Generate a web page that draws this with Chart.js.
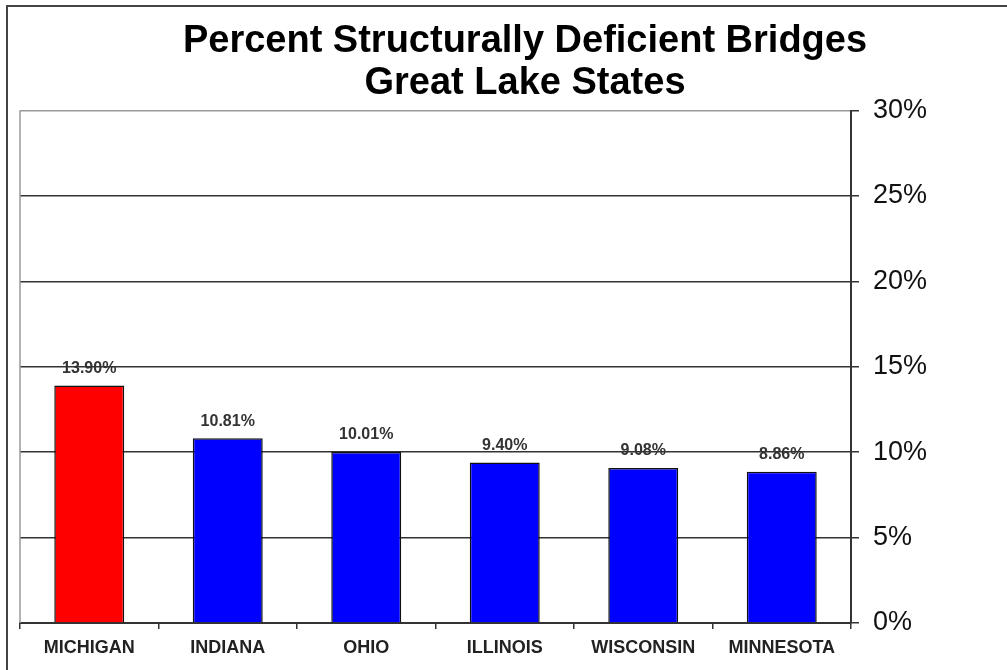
<!DOCTYPE html>
<html>
<head>
<meta charset="utf-8">
<script src="https://cdn.jsdelivr.net/npm/chart.js@4"></script>
<style>
    body { margin: 0; overflow: hidden; background: #fff; width: 1007px; height: 670px; position: relative; }
    #frame { position: absolute; left: 6px; top: 5px; width: 1100px; height: 800px; border-left: 2px solid #444; border-top: 2px solid #444; }
    #chart { position: absolute; left: 0; top: 0; }
</style>
</head>
<body>
<div id="frame"></div>
<canvas id="chart" width="1030" height="670"></canvas>
<script>
const states = ['MICHIGAN', 'INDIANA', 'OHIO', 'ILLINOIS', 'WISCONSIN', 'MINNESOTA'];
const deficientPct = [13.90, 10.81, 10.01, 9.40, 9.08, 8.86];
const barColors = ['#ff0000', '#0000ff', '#0000ff', '#0000ff', '#0000ff', '#0000ff'];
const yTicks = [0, 5, 10, 15, 20, 25, 30];

Chart.defaults.font.family = '"Liberation Sans", Arial, sans-serif';
Chart.defaults.color = '#111';

// gray left edge of the plot area
const plotEdge = {
    id: 'plotEdge',
    beforeDatasetsDraw(chart) {
        const { ctx, chartArea } = chart;
        ctx.save();
        ctx.strokeStyle = '#999';
        ctx.lineWidth = 1.5;
        ctx.beginPath();
        ctx.moveTo(chartArea.left, chartArea.top);
        ctx.lineTo(chartArea.left, chartArea.bottom);
        ctx.stroke();
        ctx.restore();
    }
};

// value labels above the bars
const valueLabels = {
    id: 'valueLabels',
    afterDatasetsDraw(chart) {
        const { ctx } = chart;
        const meta = chart.getDatasetMeta(0);
        ctx.save();
        ctx.font = 'bold 16px "Liberation Sans", Arial, sans-serif';
        ctx.fillStyle = '#333';
        ctx.textAlign = 'center';
        ctx.textBaseline = 'bottom';
        meta.data.forEach((bar, i) => {
            ctx.fillText(deficientPct[i].toFixed(2) + '%', bar.x, bar.y - 9);
        });
        ctx.restore();
    }
};

new Chart(document.getElementById('chart'), {
    type: 'bar',
    data: {
        labels: states,
        datasets: [{
            data: deficientPct,
            backgroundColor: barColors,
            borderColor: '#111',
            borderWidth: 1.5,
            categoryPercentage: 1,
            barPercentage: 0.505
        }]
    },
    options: {
        responsive: false,
        animation: false,
        layout: { padding: { left: 20, right: 0, top: 0, bottom: 0 } },
        plugins: {
            legend: { display: false },
            tooltip: { enabled: false },
            title: {
                display: true,
                text: ['Percent Structurally Deficient Bridges', 'Great Lake States'],
                color: '#000',
                font: { size: 38, weight: 'bold', lineHeight: 1.1 },
                padding: { top: 21, bottom: 6 }
            }
        },
        scales: {
            x: {
                offset: true,
                grid: { drawOnChartArea: false, drawTicks: true, tickLength: 6, color: '#333', lineWidth: 1.5 },
                border: { display: true, color: '#333', width: 2 },
                ticks: { color: '#222', padding: 8, font: { size: 18, weight: 'bold' }, maxRotation: 0 },
                afterFit(scale) { scale.height = 47; }
            },
            y: {
                position: 'right',
                min: 0,
                max: 30,
                afterBuildTicks(scale) { scale.ticks = yTicks.map(v => ({ value: v })); },
                grid: {
                    color: ctx => (ctx.tick && ctx.tick.value === 30) ? '#999' : '#333',
                    tickColor: '#333',
                    lineWidth: 1.5,
                    tickLength: 8
                },
                border: { display: true, color: '#333', width: 2 },
                ticks: {
                    color: '#111',
                    padding: 14,
                    font: { size: 27 },
                    callback: v => v + '%'
                },
                afterFit(scale) { scale.width = 179; }
            }
        }
    },
    plugins: [plotEdge, valueLabels]
});
</script>
</body>
</html>
